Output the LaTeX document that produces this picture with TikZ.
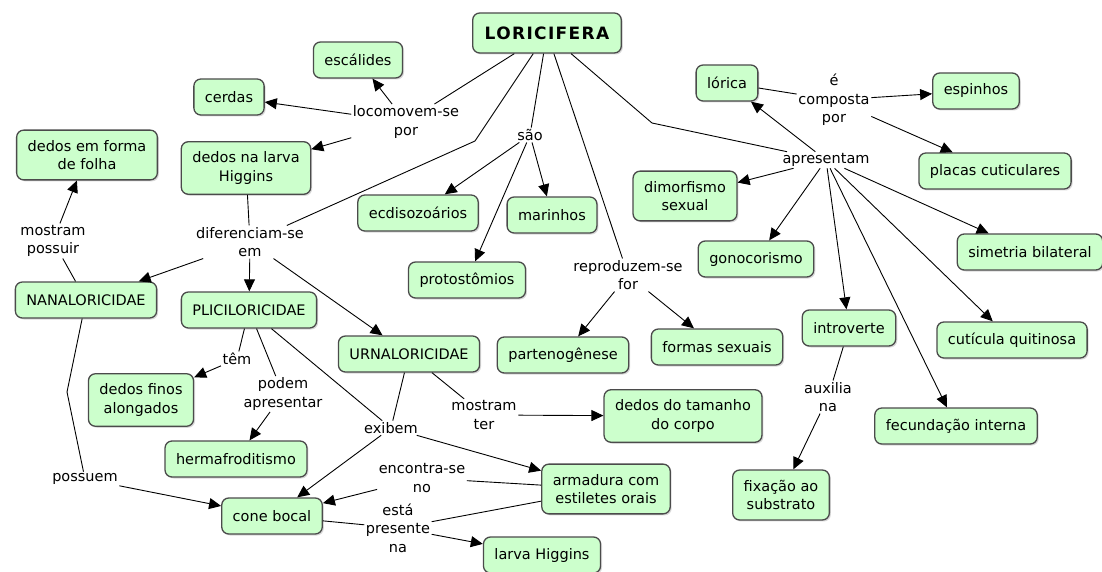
\documentclass[tikz,border=0pt]{standalone}
\usepackage{fontspec}
\setmainfont{DejaVu Sans}
\newfontfamily\titlefont{DejaVu Sans}[LetterSpace=8]
\usetikzlibrary{arrows.meta,shadows}
\definecolor{cmapgreen}{RGB}{204,255,204}
\definecolor{cmapline}{RGB}{75,75,75}

\begin{document}
\begin{tikzpicture}[x=1pt, y=-1pt,
  every node/.style={font=\fontsize{14.5}{18.5}\selectfont, align=center},
  concept/.style={draw=cmapline, fill=cmapgreen, line width=1.3pt,
    rounded corners=7pt, inner xsep=11pt, inner ysep=10pt, minimum height=36pt,
    drop shadow={shadow xshift=1.5pt, shadow yshift=-1.5pt, fill=black!30}},
  phrase/.style={inner sep=1.5pt},
  link/.style={line width=0.9pt},
  conn/.style={line width=0.9pt, -{Triangle[length=12pt,width=11pt]}}]

  \useasboundingbox (0,0) rectangle (1102,572);

  % Concepts
  \node[concept, font=\fontsize{17}{20}\selectfont\titlefont\bfseries,
    minimum height=40pt, inner xsep=12pt] (lori) at (547,33) {LORICIFERA};
  \node[concept] (escal)  at (358,60)  {escálides};
  \node[concept] (cerdas) at (229,97)  {cerdas};
  \node[concept] (dfolha) at (87,155)  {dedos em forma\\de folha};
  \node[concept] (dlarva) at (246,168) {dedos na larva\\Higgins};
  \node[concept] (ecdis)  at (418,213) {ecdisozoários};
  \node[concept] (marin)  at (552,215) {marinhos};
  \node[concept] (proto)  at (467,280) {protostômios};
  \node[concept] (dimorf) at (685,196) {dimorfismo\\sexual};
  \node[concept] (lorica) at (727,83)  {lórica};
  \node[concept] (espin)  at (976,91)  {espinhos};
  \node[concept] (placas) at (995,171) {placas cuticulares};
  \node[concept] (gonoc)  at (756,259) {gonocorismo};
  \node[concept] (simet)  at (1030,252) {simetria bilateral};
  \node[concept] (introv) at (849,328) {introverte};
  \node[concept] (cutic)  at (1012,340) {cutícula quitinosa};
  \node[concept] (fecund) at (956,426) {fecundação interna};
  \node[concept] (fixa)   at (781,495) {fixação ao\\substrato};
  \node[concept] (formas) at (717,347) {formas sexuais};
  \node[concept] (parten) at (563,355) {partenogênese};
  \node[concept] (dtam)   at (683,416) {dedos do tamanho\\do corpo};
  \node[concept] (urna)   at (409,354) {URNALORICIDAE};
  \node[concept] (plici)  at (249,310) {PLICILORICIDAE};
  \node[concept] (nana)   at (86,300)  {NANALORICIDAE};
  \node[concept] (dfinos) at (141,400) {dedos finos\\alongados};
  \node[concept] (herma)  at (236,459) {hermafroditismo};
  \node[concept] (cone)   at (272,516) {cone bocal};
  \node[concept] (armad)  at (606,489) {armadura com\\estiletes orais};
  \node[concept] (larva)  at (542,555) {larva Higgins};

  % Linking phrases
  \node[phrase] (locom) at (406,122) {locomovem-se\\por};
  \node[phrase] (sao)   at (530,135) {são};
  \node[phrase] (difer) at (250,242) {diferenciam-se\\em};
  \node[phrase] (mposs) at (53,241)  {mostram\\possuir};
  \node[phrase] (repro) at (628,275) {reproduzem-se\\for};
  \node[phrase] (compo) at (834,100) {é\\composta\\por};
  \node[phrase] (apres) at (826,160) {apresentam};
  \node[phrase] (tem)   at (237,359) {têm};
  \node[phrase] (podem) at (283,394) {podem\\apresentar};
  \node[phrase] (exib)  at (391,428) {exibem};
  \node[phrase] (mter)  at (484,415) {mostram\\ter};
  \node[phrase] (encon) at (422,478) {encontra-se\\no};
  \node[phrase] (estap) at (398,528) {está\\presente\\na};
  \node[phrase] (possu) at (85,479)  {possuem};
  \node[phrase] (auxil) at (828,397) {auxilia\\na};

  % Bends
  \coordinate (kd) at (475,141);
  \coordinate (ka) at (652,123);
  \coordinate (kp) at (67,392);

  % Links
  \draw[link] (lori) -- (locom);
  \draw[link] (lori) -- (kd) -- (difer);
  \draw[link] (lori) -- (sao);
  \draw[link] (lori) -- (repro);
  \draw[link] (lori) -- (ka) -- (apres);
  \foreach \t in {escal,cerdas,dlarva} \draw[conn] (locom) -- (\t);
  \draw[link] (dlarva) -- (difer);
  \foreach \t in {nana,plici,urna} \draw[conn] (difer) -- (\t);
  \foreach \t in {ecdis,marin,proto} \draw[conn] (sao) -- (\t);
  \foreach \t in {parten,formas} \draw[conn] (repro) -- (\t);
  \foreach \t in {lorica,dimorf,gonoc,introv,fecund,cutic,simet}
    \draw[conn] (apres) -- (\t);
  \draw[link] (lorica) -- (compo);
  \foreach \t in {espin,placas} \draw[conn] (compo) -- (\t);
  \draw[link] (nana) -- (mposs);
  \draw[conn] (mposs) -- (dfolha);
  \draw[link] (nana) -- (kp) -- (possu);
  \draw[conn] (possu) -- (cone);
  \draw[link] (plici) -- (tem);
  \draw[conn] (tem) -- (dfinos);
  \draw[link] (plici) -- (podem);
  \draw[conn] (podem) -- (herma);
  \foreach \s in {plici,urna} \draw[link] (\s) -- (exib);
  \foreach \t in {cone,armad} \draw[conn] (exib) -- (\t);
  \draw[link] (urna) -- (mter);
  \draw[conn] (mter) -- (dtam);
  \draw[link] (armad) -- (encon);
  \draw[conn] (encon) -- (cone);
  \foreach \s in {cone,armad} \draw[link] (\s) -- (estap);
  \draw[conn] (estap) -- (larva);
  \draw[link] (introv) -- (auxil);
  \draw[conn] (auxil) -- (fixa);
\end{tikzpicture}
\end{document}
